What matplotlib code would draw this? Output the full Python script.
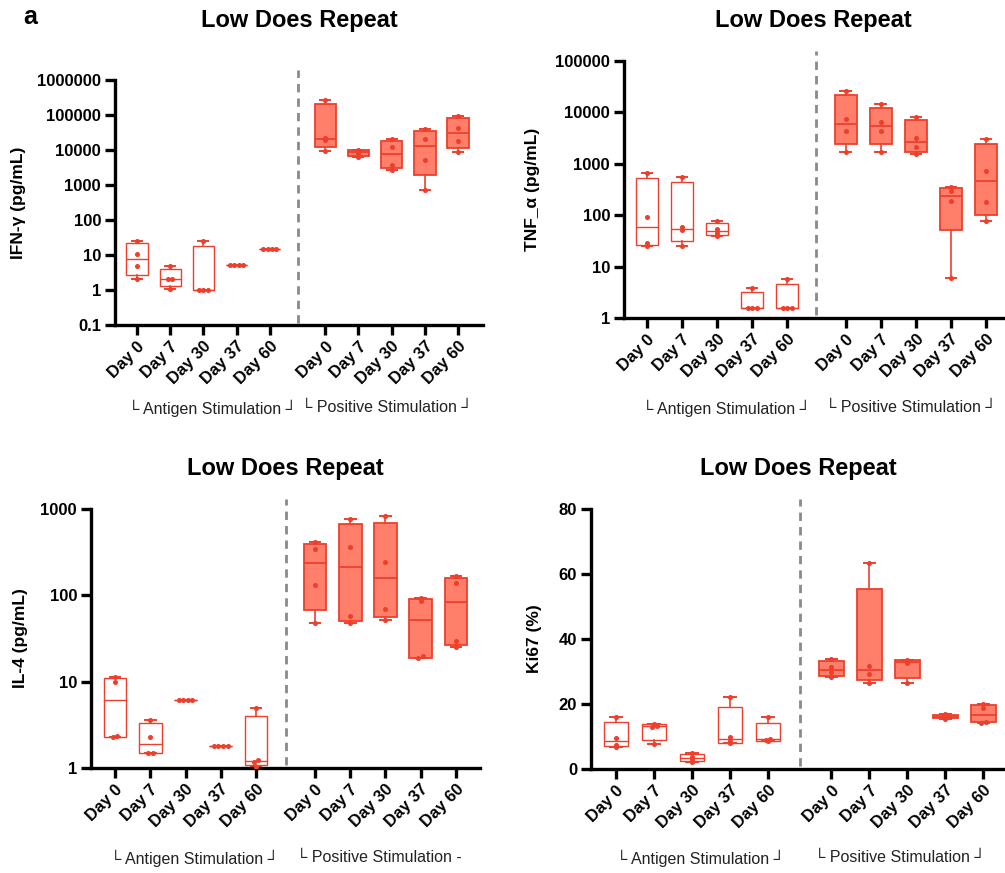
import numpy as np
import matplotlib
matplotlib.use('Agg')
import matplotlib.pyplot as plt
import matplotlib.transforms as mtransforms

plt.rcParams['font.family'] = ['Liberation Sans', 'DejaVu Sans']

days = ['Day 0', 'Day 7', 'Day 30', 'Day 37', 'Day 60']
group_labels = ['\u2514 Antigen Stimulation \u2518', '\u2514 Positive Stimulation \u2518']
title = 'Low Does Repeat'

# values per mouse (4 per day)
ifn_antigen = [[2, 5, 10.8, 25], [1.07, 2.0, 2.0, 4.7], [1, 1, 1, 24.5],
               [5.1, 5.2, 5.2, 5.3], [14.4, 14.5, 14.7, 14.8]]
ifn_positive = [[9300, 19500, 22000, 270000], [6200, 8000, 9000, 10000],
                [2750, 3800, 12000, 20000], [740, 5300, 20000, 39000],
                [8900, 18000, 43000, 93000]]

tnf_antigen = [[25.5, 28.5, 92, 660], [25.5, 52, 58, 565], [39, 45, 55, 76],
               [1.56, 1.56, 1.56, 3.83], [1.6, 1.6, 1.6, 5.7]]
tnf_positive = [[1730, 4360, 7600, 26100], [1730, 4350, 6600, 14400],
                [1550, 2080, 3240, 8300], [6, 190, 290, 360],
                [76, 182, 740, 3000]]

il4_antigen = [[2.27, 2.32, 9.9, 11.3], [1.5, 1.5, 2.3, 3.62], [6.2, 6.2, 6.2, 6.2],
               [1.78, 1.78, 1.78, 1.78], [1.04, 1.18, 1.25, 4.94]]
il4_positive = [[47.6, 131, 342, 412], [47.6, 57, 364, 767], [52, 70, 244, 830],
                [18.7, 19.8, 85, 94], [25.1, 29.7, 138, 168]]

ki67_antigen = [[6.9, 7.5, 9.6, 16.1], [7.7, 13.0, 13.3, 13.9], [2.3, 3.0, 3.6, 5.0],
                [7.9, 8.5, 9.9, 22.3], [8.6, 9.0, 9.2, 15.9]]
ki67_positive = [[28.4, 29.8, 31.4, 33.8], [26.6, 29.2, 31.6, 63.5], [26.4, 32.6, 33.1, 33.6],
                 [15.5, 16.0, 16.3, 16.8], [14.3, 14.5, 18.7, 20.0]]

RED = '#EE3F2C'
FILL = '#FF7F6B'
OFFSET = 5.67

W, H = 1005, 873
fig = plt.figure(figsize=(W / 100, H / 100), dpi=100)


def px_axes(l, t, r, b):
    return fig.add_axes([l / W, 1 - b / H, (r - l) / W, (b - t) / H])


def stats_of(vals):
    v = np.array(vals, dtype=float)
    q1, med, q3 = np.percentile(v, [25, 50, 75], method='weibull')
    return dict(med=med, q1=q1, q3=q3, whislo=v.min(), whishi=v.max(), fliers=[])


def draw_group(ax, data, pos, filled, log):
    st = [stats_of(d) for d in data]
    lw = 1.3 if filled else 1.0
    ax.bxp(st, positions=pos, widths=0.64, capwidths=0.3, patch_artist=True,
           showfliers=False,
           boxprops=dict(facecolor=FILL if filled else 'white', edgecolor=RED, linewidth=lw),
           medianprops=dict(color=RED, linewidth=lw),
           whiskerprops=dict(color=RED, linewidth=1.2),
           capprops=dict(color=RED, linewidth=1.4))
    for p, d in zip(pos, data):
        d = np.array(d, dtype=float)
        key = np.log10(d) if log else d
        tol = 0.03 if log else 0.4
        xs = np.full(len(d), float(p))
        used = np.zeros(len(d), bool)
        for i in range(len(d)):
            if used[i]:
                continue
            grp = [j for j in range(len(d)) if not used[j] and abs(key[j] - key[i]) < tol]
            for k, j in enumerate(grp):
                xs[j] = p + (k - (len(grp) - 1) / 2) * 0.13
                used[j] = True
        ax.plot(xs, d, 'o', color=RED, markersize=2.6, zorder=5)


def panel(box, antigen, positive, log, ylim, yticks, ylabel, xlim, label_x, label_y, ylab_x, title_y):
    l, t, r, b = box
    ax = px_axes(l, t, r, b)
    pos_a = np.arange(5)
    pos_p = np.arange(5) + OFFSET
    draw_group(ax, antigen, pos_a, False, log)
    draw_group(ax, positive, pos_p, True, log)
    if log:
        ax.set_yscale('log')
        ax.yaxis.set_minor_locator(matplotlib.ticker.NullLocator())
    ax.set_ylim(*ylim)
    ax.set_yticks(yticks)
    ax.set_yticklabels([f'{v:g}' if v < 1 else f'{int(v)}' for v in yticks])
    ax.set_xlim(*xlim)
    ax.set_xticks(np.concatenate([pos_a, pos_p]))
    ax.set_xticklabels(days + days, rotation=45, ha='right', rotation_mode='anchor')
    for s in ['top', 'right']:
        ax.spines[s].set_visible(False)
    for s in ['left', 'bottom']:
        ax.spines[s].set_linewidth(2.4)
    ax.tick_params(axis='both', width=2.4, length=7, labelsize=12, pad=3)
    for lab in ax.get_xticklabels() + ax.get_yticklabels():
        lab.set_fontweight('bold')
    trans = mtransforms.blended_transform_factory(ax.transData, ax.transAxes)
    xd = (pos_a[-1] + pos_p[0]) / 2
    ax.plot([xd, xd], [0.01, 1.04], transform=trans, color='#8a8a8a', linestyle=(0, (3, 2.2)),
            linewidth=2, clip_on=False)
    fig.text(((l + r) / 2) / W, 1 - title_y / H, title, ha='center', va='center',
             fontsize=17, fontweight='bold')
    fig.text(ylab_x / W, 1 - ((t + b) / 2) / H, ylabel, rotation=90, ha='center', va='center',
             fontsize=12.5, fontweight='bold')
    for txt, x in zip(group_labels if label_x[2] is None else [group_labels[0], label_x[2]], label_x[:2]):
        fig.text(x / W, 1 - label_y / H, txt, ha='center', va='center', fontsize=11.5, color='#222222')
    return ax


panel((115, 80, 483, 325), ifn_antigen, ifn_positive, True, (0.1, 1e6),
      [0.1, 1, 10, 100, 1000, 10000, 100000, 1000000], 'IFN-\u03b3 (pg/mL)',
      (-0.66, 10.42), (212, 387, None), 408, 18, 20)
panel((624, 61, 1003, 318), tnf_antigen, tnf_positive, True, (1, 1e5),
      [1, 10, 100, 1000, 10000, 100000], 'TNF_\u03b1 (pg/mL)',
      (-0.66, 10.16), (726, 911, None), 408, 532, 21)
panel((91, 509, 480, 768), il4_antigen, il4_positive, True, (1, 1000),
      [1, 10, 100, 1000], 'IL-4 (pg/mL)',
      (-0.68, 10.35), (194, 379, '\u2514 Positive Stimulation -'), 858, 20, 469)
panel((591, 509, 1005, 769), ki67_antigen, ki67_positive, False, (0, 80),
      [0, 20, 40, 60, 80], 'Ki67 (%)',
      (-0.66, 10.24), (700, 900, None), 858, 534, 469)

fig.text(30 / W, 1 - 17 / H, 'a', ha='center', va='center', fontsize=18, fontweight='bold')

fig.savefig('out.png', dpi=100)
